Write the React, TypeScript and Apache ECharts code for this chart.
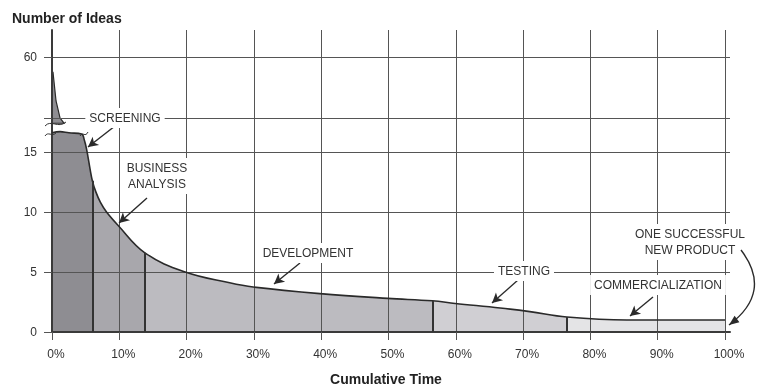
import React, { useEffect, useRef } from "react";
import * as echarts from "echarts";

// ---- data ----
const xTickValues = [0, 10, 20, 30, 40, 50, 60, 70, 80, 90, 100];
const yTickValues = [0, 5, 10, 15, 60];
const breakValue = 40; // value represented by the axis-break line

const curveX = [0, 1.2, 2.5, 4.4, 4.8, 5.15, 5.65, 6.0, 6.5, 7.2, 8.1, 9.8, 13.8, 19.8, 26.4, 29.9, 39.8, 49.9, 56.5, 59.9, 66.6, 71.0, 76.5, 85.4, 100];
const curveY = [16.6, 16.7, 16.6, 16.5, 16.0, 15.2, 13.6, 12.6, 11.7, 10.8, 10.0, 8.9, 6.6, 5.0, 4.1, 3.75, 3.2, 2.8, 2.6, 2.38, 2.0, 1.7, 1.25, 1.0, 1.0];

const phaseEnds = [6.0, 13.8, 56.5, 76.5, 100];
const spikeX = [0, 0.15, 0.6, 1.2, 1.8];
const spikeY = [55, 55, 45.6, 40, 38.3];

// ---- styles ----
const FONT = '"Liberation Sans", Arial, Helvetica, sans-serif';
const phaseColors = ["#8e8d92", "#a8a7ac", "#bcbbc0", "#d0cfd3", "#e4e4e6"];
const GRID = "#555555";
const DARK = "#2a2a2a";

function toAxis(v: number) {
  return v <= 18 ? v : 17.83 + (v - breakValue) * ((22.92 - 17.83) / (60 - breakValue));
}

export default function App() {
  const ref = useRef<HTMLDivElement>(null);

  useEffect(() => {
    if (!ref.current) return;
    const chart = echarts.init(ref.current, null, { renderer: "svg" });

    const full = curveX.map((x, i) => [x, curveY[i]]);
    const xMax = curveX[curveX.length - 1];

    const stops: { offset: number; color: string }[] = [];
    phaseEnds.forEach((end, i) => {
      const start = i === 0 ? 0 : phaseEnds[i - 1];
      stops.push({ offset: start / xMax, color: phaseColors[i] });
      stops.push({ offset: end / xMax, color: phaseColors[i] });
    });
    const areaGradient = new echarts.graphic.LinearGradient(0, 0, 1, 0, stops);

    const dividerLines = phaseEnds.slice(0, 4).map((x) => {
      const v = curveY[curveX.indexOf(x)];
      return [
        { coord: [x, 0], symbol: "none", lineStyle: { color: "#333", width: 2, type: "solid" } },
        { coord: [x, v], symbol: "none" },
      ];
    });

    const arrowDefs: [number, number, number, number][] = [
      [115, 126, 88, 147],
      [147, 198, 119, 223],
      [300, 263, 274, 284],
      [518, 280, 492, 303],
      [653, 297, 630, 316],
    ];
    const arrowLines = arrowDefs.map(([x1, y1, x2, y2]) => [
      { x: x1, y: y1, symbol: "none", lineStyle: { color: DARK, width: 1.4, type: "solid" } },
      { x: x2, y: y2, symbol: "arrow", symbolSize: [8, 10] },
    ]);

    // curved arrow (quadratic) for "ONE SUCCESSFUL NEW PRODUCT"
    const qa = { x1: 741, y1: 250, cx: 773, cy: 292, x2: 729, y2: 325 };
    const dx = qa.x2 - qa.cx;
    const dy = qa.y2 - qa.cy;
    const len = Math.sqrt(dx * dx + dy * dy);
    const ux = dx / len;
    const uy = dy / len;
    const bx = qa.x2 - ux * 10;
    const by = qa.y2 - uy * 10;
    const head = [
      [qa.x2, qa.y2],
      [bx - uy * 4, by + ux * 4],
      [bx + uy * 4, by - ux * 4],
    ];

    const txt = (text: string, x: number, y: number, lineHeight = 16) => ({
      type: "text",
      x,
      y,
      z: 100,
      style: {
        text,
        fill: "#333",
        font: `12px ${FONT}`,
        align: "center",
        textAlign: "center",
        verticalAlign: "middle",
        textVerticalAlign: "middle",
        lineHeight,
        backgroundColor: "#ffffff",
        padding: [2, 4],
      },
    });

    const squiggle = (x1: number, y1: number, c1x: number, c1y: number, c2x: number, c2y: number, x2: number, y2: number) => ({
      type: "bezierCurve",
      z: 90,
      shape: { x1, y1, cpx1: c1x, cpy1: c1y, cpx2: c2x, cpy2: c2y, x2, y2 },
      style: { stroke: "#333", lineWidth: 1, fill: "none" },
    });

    const option: any = {
      animation: false,
      grid: { left: 52, right: 38, top: 30, bottom: 58 },
      xAxis: {
        type: "value",
        min: 0,
        max: 100.74,
        z: 3,
        axisLine: { show: true, lineStyle: { color: "#3a3a3a", width: 2 } },
        axisTick: { show: true, length: 8, customValues: xTickValues, lineStyle: { color: GRID, width: 1 } },
        axisLabel: {
          customValues: xTickValues,
          formatter: "{value}%",
          margin: 16,
          padding: [0, 0, 0, 8],
          fontSize: 12,
          color: "#333",
          fontFamily: FONT,
        },
        splitLine: { show: true, lineStyle: { color: GRID, width: 1 } },
      },
      yAxis: {
        type: "value",
        min: 0,
        max: 25.17,
        z: 3,
        axisLine: { show: true, lineStyle: { color: "#3a3a3a", width: 2 } },
        axisTick: {
          show: true,
          length: 8,
          customValues: [...yTickValues.map(toAxis), toAxis(breakValue)],
          lineStyle: { color: GRID, width: 1 },
        },
        axisLabel: {
          customValues: yTickValues.map(toAxis),
          formatter: (v: number) => {
            let best = 0;
            yTickValues.forEach((t, i) => {
              if (Math.abs(toAxis(t) - v) < Math.abs(toAxis(yTickValues[best]) - v)) best = i;
            });
            return String(yTickValues[best]);
          },
          margin: 15,
          fontSize: 12,
          color: "#333",
          fontFamily: FONT,
        },
        splitLine: { show: true, lineStyle: { color: GRID, width: 1 } },
      },
      series: [
        {
          type: "line",
          data: full,
          showSymbol: false,
          smooth: 0.4,
          lineStyle: { width: 0 },
          areaStyle: { color: areaGradient, opacity: 1 },
          z: 1,
          silent: true,
        },
        {
          type: "custom",
          z: 2,
          silent: true,
          data: [[0, toAxis(spikeY[0])]],
          renderItem: (_p: any, api: any) => {
            const pts = spikeX.map((x, i) => api.coord([x, toAxis(spikeY[i])]));
            pts.push(api.coord([0, toAxis(spikeY[spikeY.length - 1])]));
            return {
              type: "polygon",
              shape: { points: pts },
              style: { fill: phaseColors[0], stroke: DARK, lineWidth: 1.2 },
            };
          },
        },
        {
          type: "line",
          data: full,
          showSymbol: false,
          smooth: 0.4,
          lineStyle: { color: DARK, width: 1.6 },
          z: 4,
          silent: true,
          markLine: {
            silent: true,
            symbol: "none",
            label: { show: false },
            emphasis: { disabled: true },
            data: [...dividerLines, ...arrowLines],
          },
        },
      ],
      graphic: [
        {
          type: "text",
          x: 12,
          y: 11,
          style: { text: "Number of Ideas", fill: "#222", font: `bold 14px ${FONT}` },
        },
        {
          type: "text",
          x: 386,
          y: 379,
          style: {
            text: "Cumulative Time",
            fill: "#222",
            font: `bold 14px ${FONT}`,
            align: "center",
            textAlign: "center",
            verticalAlign: "middle",
            textVerticalAlign: "middle",
          },
        },
        txt("SCREENING", 125, 118),
        txt("BUSINESS\nANALYSIS", 157, 176),
        txt("DEVELOPMENT", 308, 253),
        txt("TESTING", 524, 271),
        txt("COMMERCIALIZATION", 658, 285),
        txt("ONE SUCCESSFUL\nNEW PRODUCT", 690, 242),
        squiggle(45, 126, 51, 119, 58, 129, 66, 122),
        squiggle(45, 136, 48, 131, 52, 137, 56, 133),
        squiggle(80, 136, 83, 131, 85, 138, 88, 132),
        {
          type: "bezierCurve",
          z: 110,
          shape: { x1: qa.x1, y1: qa.y1, cpx1: qa.cx, cpy1: qa.cy, x2: qa.x2, y2: qa.y2 },
          style: { stroke: DARK, lineWidth: 1.4, fill: "none" },
        },
        {
          type: "polygon",
          z: 110,
          shape: { points: head },
          style: { fill: DARK },
        },
      ],
    };

    chart.setOption(option);
    return () => chart.dispose();
  }, []);

  return <div ref={ref} style={{ position: "fixed", left: 0, top: 0, width: 768, height: 390 }} />;
}
